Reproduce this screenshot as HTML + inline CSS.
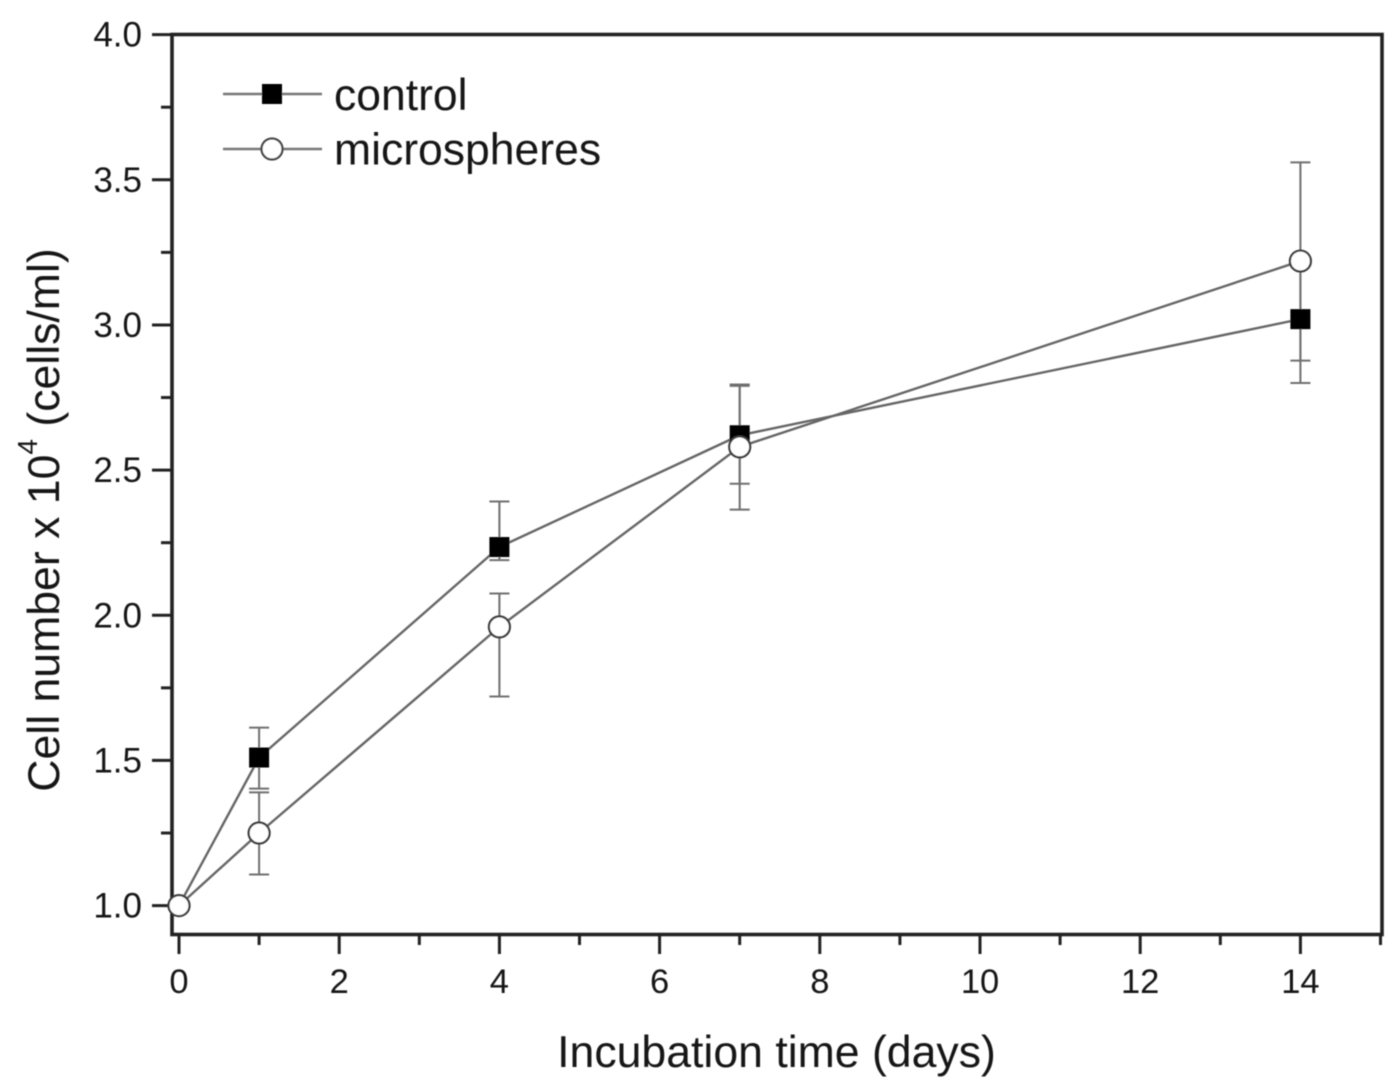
<!DOCTYPE html>
<html>
<head>
<meta charset="utf-8">
<title>Cell number vs incubation time</title>
<style>
html,body{margin:0;padding:0;background:#fff;width:1394px;height:1089px;overflow:hidden}
svg{display:block;font-family:"Liberation Sans",sans-serif}
text{fill:#141414}
</style>
</head>
<body>
<svg id="chart" width="1394" height="1089" viewBox="0 0 1394 1089" xmlns="http://www.w3.org/2000/svg">
  <defs>
    <filter id="soft" x="-5%" y="-5%" width="110%" height="110%"><feGaussianBlur stdDeviation="0.65"/></filter>
  </defs>
  <g id="root" filter="url(#soft)">
    <rect x="172" y="34.5" width="1210" height="900" fill="none" stroke="#222" stroke-width="3.6"/>
    <g id="ticks"></g>
    <g id="series"></g>
    <g>
      <line x1="223" x2="322" y1="94" y2="94" stroke="#777" stroke-width="2.4"/>
      <rect x="262" y="84" width="20" height="20" fill="#000"/>
      <text x="334" y="110" font-size="44.5">control</text>
      <line x1="223" x2="322" y1="149" y2="149" stroke="#777" stroke-width="2.4"/>
      <circle cx="272" cy="149" r="10.5" fill="#fff" stroke="#444" stroke-width="2.2"/>
      <text x="334" y="164.5" font-size="44.5">microspheres</text>
    </g>
    <text x="776.5" y="1067" font-size="44.6" text-anchor="middle">Incubation time (days)</text>
    <text transform="translate(59,520) rotate(-90)" font-size="44.6" text-anchor="middle">Cell number x 10<tspan font-size="28" dy="-22">4</tspan><tspan dy="22"> (cells/ml)</tspan></text>
  </g>
</svg>
<script>
var days = [0, 1, 4, 7, 14];
var controlValues = [1.0, 1.51, 2.235, 2.62, 3.02];
var controlHigh = [null, 1.613, 2.392, 2.79, 3.235];
var controlLow = [null, 1.403, 2.19, 2.453, 2.80];
var microValues = [1.0, 1.25, 1.96, 2.58, 3.22];
var microHigh = [null, 1.39, 2.075, 2.795, 3.56];
var microLow = [null, 1.107, 1.72, 2.364, 2.877];
var xMajorTicks = [0, 2, 4, 6, 8, 10, 12, 14];
var xMinorTicks = [1, 3, 5, 7, 9, 11, 13, 15];
var yMajorTicks = [1.0, 1.5, 2.0, 2.5, 3.0, 3.5, 4.0];
var yMinorTicks = [1.25, 1.75, 2.25, 2.75, 3.25, 3.75];

var NS = 'http://www.w3.org/2000/svg';
function xPos(v) { return 179 + v * 80.1; }
function yPos(v) { return 905.6 - (v - 1) * 290.33; }
function mk(tag, parent, props) {
  var el = document.createElementNS(NS, tag);
  for (var k in props) { el.setAttribute(k, props[k]); }
  parent.appendChild(el);
  return el;
}
var ticks = document.getElementById('ticks');
var series = document.getElementById('series');

xMajorTicks.forEach(function (v) {
  var t = mk('line', ticks, { x1: xPos(v), x2: xPos(v), y1: 934, y2: 954, stroke: '#222', 'stroke-width': 3 });
  
  
  var l = mk('text', ticks, { x: xPos(v), y: 993, 'font-size': 34.5, 'text-anchor': 'middle' });
  
  
  l.textContent = String(v);
});
xMinorTicks.forEach(function (v) {
  var t = mk('line', ticks, { x1: xPos(v), x2: xPos(v), y1: 934, y2: 945, stroke: '#222', 'stroke-width': 3 });
  
  
});
yMajorTicks.forEach(function (v) {
  var t = mk('line', ticks, { x1: 152, x2: 172, y1: yPos(v), y2: yPos(v), stroke: '#222', 'stroke-width': 3 });
  
  
  var l = mk('text', ticks, { x: 142, y: yPos(v) + 12, 'font-size': 35, 'text-anchor': 'end' });
  
  
  l.textContent = v.toFixed(1);
});
yMinorTicks.forEach(function (v) {
  var t = mk('line', ticks, { x1: 161, x2: 172, y1: yPos(v), y2: yPos(v), stroke: '#222', 'stroke-width': 3 });
  
  
});

function drawErrors(high, low, name) {
  days.forEach(function (d, i) {
    if (high[i] === null) { return; }
    var x = xPos(d);
    var stem = mk('line', series, { x1: x, x2: x, y1: yPos(high[i]), y2: yPos(low[i]), stroke: '#6f6f6f', 'stroke-width': 2 });
    
    
    [high[i], low[i]].forEach(function (c) {
      var cap = mk('line', series, { x1: x - 10, x2: x + 10, y1: yPos(c), y2: yPos(c), stroke: '#6f6f6f', 'stroke-width': 2 });
      
      
    });
  });
}
function drawLine(values, name) {
  var pts = days.map(function (d, i) { return xPos(d) + ',' + yPos(values[i]); }).join(' ');
  var line = mk('polyline', series, { points: pts, fill: 'none', stroke: '#666', 'stroke-width': 2.4 });
  
  
}

drawErrors(controlHigh, controlLow, 'control');
drawErrors(microHigh, microLow, 'microspheres');
drawLine(controlValues, 'control');
drawLine(microValues, 'microspheres');

days.forEach(function (d, i) {
  if (i === 0) { return; }
  var m = mk('rect', series, { x: xPos(d) - 10, y: yPos(controlValues[i]) - 10, width: 20, height: 20, fill: '#000' });
  
  
});
days.forEach(function (d, i) {
  var m = mk('circle', series, { cx: xPos(d), cy: yPos(microValues[i]), r: 10.5, fill: '#fff', stroke: '#3a3a3a', 'stroke-width': 2.2 });
  
  
});
</script>
</body>
</html>
